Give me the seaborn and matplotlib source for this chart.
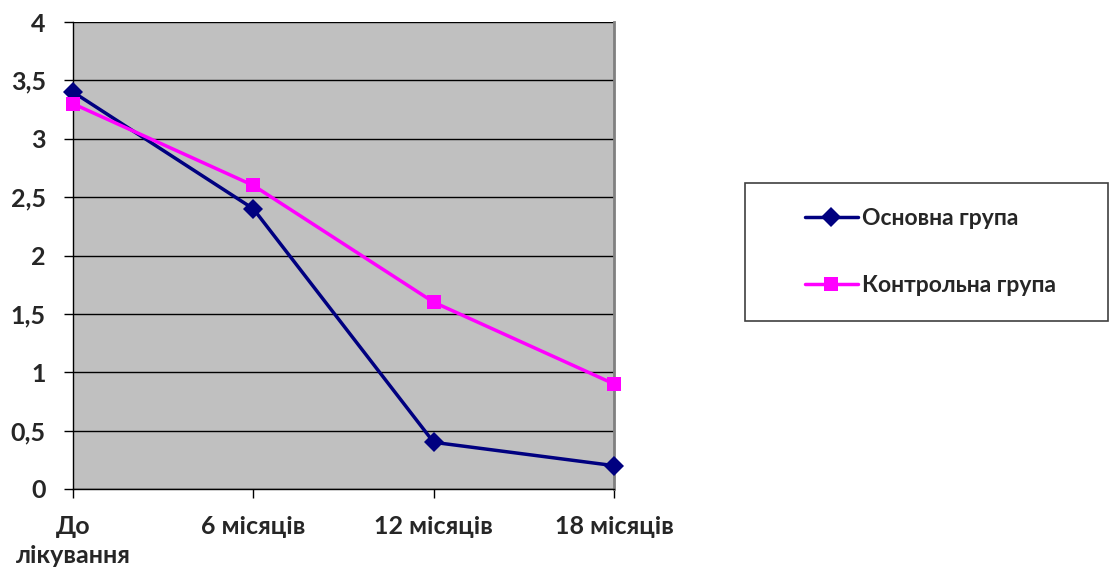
import pandas as pd
import numpy as np
import matplotlib.pyplot as plt
import seaborn as sns
from matplotlib.patches import Rectangle

# Data
periods = ['До\nлікування', '6 місяців', '12 місяців', '18 місяців']
main_group = [3.4, 2.4, 0.4, 0.2]
control_group = [3.3, 2.6, 1.6, 0.9]
series_names = ['Основна група', 'Контрольна група']
y_ticks = [0, 0.5, 1, 1.5, 2, 2.5, 3, 3.5, 4]

df = pd.DataFrame({
    'period': list(range(len(periods))) * 2,
    'value': main_group + control_group,
    'group': [series_names[0]] * len(periods) + [series_names[1]] * len(periods),
})

sns.set_style('white')
plt.rcParams['font.family'] = 'Lato'
plt.rcParams['font.weight'] = 'bold'

fig = plt.figure(figsize=(11.1, 5.72), dpi=100)
ax = fig.add_axes([73 / 1110, 1 - 489 / 572, (614 - 73) / 1110, (489 - 22) / 572])
ax.set_facecolor('#C0C0C0')

sns.lineplot(data=df, x='period', y='value', hue='group', style='group',
             palette=['#000080', '#FF00FF'], markers=['D', 's'], dashes=False,
             markersize=10, linewidth=2.5, markeredgewidth=0, ax=ax)

ax.set_xlim(0, 3)
ax.set_ylim(0, 4)
ax.set_yticks(y_ticks)
ax.set_yticklabels([f'{v:g}'.replace('.', ',') for v in y_ticks],
                   fontsize=18, fontweight='bold', family='Lato')
ax.set_xticks(range(len(periods)))
ax.set_xticklabels(periods, linespacing=1.35, fontsize=18, fontweight='bold',
                   family='Lato')
ax.yaxis.grid(True, color='black', linewidth=1)
for l in ax.get_lines():
    l.set_zorder(3)
    l.set_clip_on(False)
ax.tick_params(axis='both', direction='out', length=6.5, width=1, color='black',
               left=True, bottom=True)
ax.tick_params(axis='y', pad=13)
ax.tick_params(axis='x', pad=12)
ax.set_xlabel('')
ax.set_ylabel('')
for side in ['left', 'bottom']:
    ax.spines[side].set_color('black')
    ax.spines[side].set_linewidth(1)
ax.spines['right'].set_color('#808080')
ax.spines['right'].set_linewidth(2)
ax.spines['top'].set_visible(False)

handles, labels = ax.get_legend_handles_labels()
ax.get_legend().remove()
fig.patches.append(Rectangle((745 / 1110, 1 - 321 / 572), (1108 - 745) / 1110,
                             (321 - 183) / 572, transform=fig.transFigure,
                             facecolor='white', edgecolor='#404040', linewidth=1.2))
leg = fig.legend(handles, labels, loc='center left',
                 bbox_to_anchor=(805 / 1110, 1 - 252 / 572),
                 frameon=False,
                 prop={'size': 16.5, 'weight': 'bold', 'family': 'Lato'},
                 handlelength=2.3, borderpad=0, labelspacing=2.0,
                 borderaxespad=0, handletextpad=0.2)

fig.savefig('out.png', dpi=100)
